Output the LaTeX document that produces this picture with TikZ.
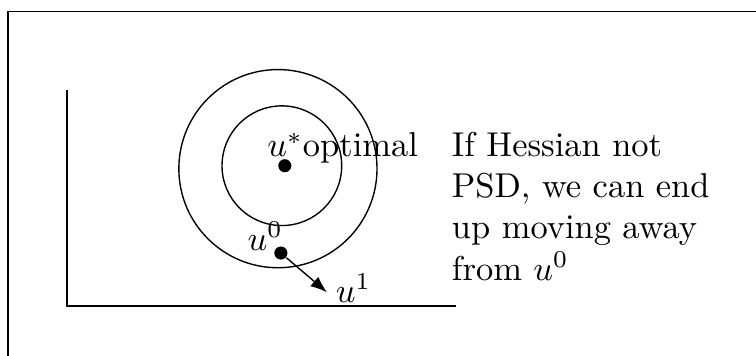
\documentclass[tikz,border=0pt]{standalone}
\usepackage{amsmath}
\usepackage{amssymb}
\usetikzlibrary{arrows.meta,positioning}

\begin{document}
\begin{tikzpicture}[
  dot/.style={circle, fill, inner sep=0pt, minimum size=3.8pt},
  lbl/.style={anchor=base},
  note/.style={align=left, anchor=north west},
  arr/.style={-{Latex[length=4.8pt]}}
]
  % page and frame
  \clip (-0.683,-0.5) rectangle (7.023,3.119);
  \draw (-0.6,-1) rectangle (8,3.0);

  % axes
  \coordinate (origin) at (0,0);
  \coordinate (ytop) at (0,2.2);
  \coordinate (xend) at (3.97,0);
  \draw (ytop) -- (origin) -- (xend);

  % level sets
  \draw (2.15,1.4) circle (1.01);
  \draw (2.19,1.43) circle (0.61);

  \node[dot] (ustar) at (2.22,1.43) {};
  \node[lbl] (ustarlbl) at (2.81,1.52) {$u^*$optimal};

  \node[dot] (u0) at (2.18,0.54) {};
  \node[lbl] (u0lbl) at (2.02,0.57) {$u^0$};

  \coordinate (u1) at (2.65,0.14);
  \node[lbl] (u1lbl) at (2.92,0.04) {$u^1$};
  \draw[arr] (u0) -- (u1);

  \node[note] (remark) at (3.80,1.90) {If Hessian not\\PSD, we can end\\up moving away\\from $u^0$};
\end{tikzpicture}
\end{document}
